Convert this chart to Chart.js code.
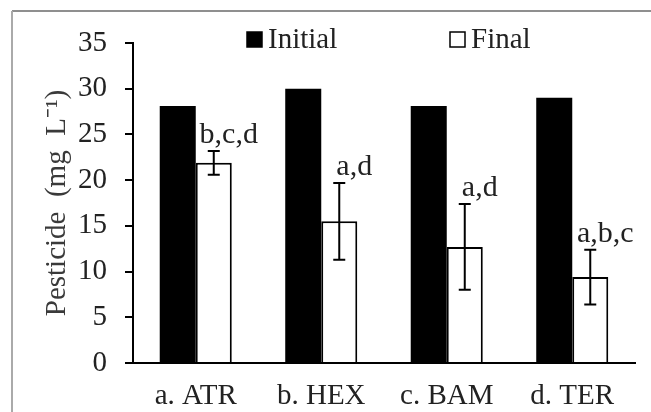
<!DOCTYPE html>
<html>
<head>
<meta charset="utf-8">
<script src="https://cdn.jsdelivr.net/npm/chart.js@4.4.0/dist/chart.umd.min.js"></script>
<style>
  html, body { margin: 0; padding: 0; background: #fff; }
</style>
</head>
<body>
<canvas id="canvas" width="651" height="412"></canvas>
<script>
const categories = ['a. ATR', 'b. HEX', 'c. BAM', 'd. TER'];
const initialValues = [28.1, 30.0, 28.1, 29.0];
const finalValues = [21.9, 15.5, 12.7, 9.4];
const finalErrors = [1.3, 4.2, 4.7, 3.0];
const finalLetters = ['b,c,d', 'a,d', 'a,d', 'a,b,c'];
const seriesNames = ['Initial', 'Final'];

const serif = "'Liberation Serif', 'Times New Roman', serif";

// grey frame of the original figure (top + left edge only)
const framePlugin = {
  id: 'frame',
  beforeDraw(chart) {
    const ctx = chart.ctx;
    ctx.save();
    ctx.lineWidth = 1.5;
    ctx.strokeStyle = '#6a6a6a';
    ctx.beginPath();
    ctx.moveTo(12, 11);
    ctx.lineTo(chart.width, 11);
    ctx.stroke();
    ctx.strokeStyle = '#aaaaaa';
    ctx.lineWidth = 2;
    ctx.beginPath();
    ctx.moveTo(12, 11);
    ctx.lineTo(12, chart.height);
    ctx.stroke();
    ctx.restore();
  }
};

// error bars + significance letters on the Final series
const errorPlugin = {
  id: 'errorBars',
  afterDatasetsDraw(chart) {
    const ctx = chart.ctx;
    const y = chart.scales.y;
    const meta = chart.getDatasetMeta(1);
    ctx.save();
    ctx.strokeStyle = '#000';
    ctx.lineWidth = 2;
    ctx.fillStyle = '#222';
    ctx.font = '30px ' + serif;
    ctx.textAlign = 'center';
    ctx.textBaseline = 'alphabetic';
    meta.data.forEach((bar, i) => {
      const top = y.getPixelForValue(finalValues[i] + finalErrors[i]);
      const bot = y.getPixelForValue(finalValues[i] - finalErrors[i]);
      ctx.beginPath();
      ctx.moveTo(bar.x, top); ctx.lineTo(bar.x, bot);
      ctx.moveTo(bar.x - 6, top); ctx.lineTo(bar.x + 6, top);
      ctx.moveTo(bar.x - 6, bot); ctx.lineTo(bar.x + 6, bot);
      ctx.stroke();
      ctx.fillText(finalLetters[i], bar.x + 15, top - 8);
    });
    ctx.restore();
  }
};

// legend laid out like the original (wide gap between entries)
const legendPlugin = {
  id: 'wideLegend',
  afterDraw(chart) {
    const ctx = chart.ctx;
    const left = chart.chartArea.left;
    const offsets = [114, 317];
    ctx.save();
    ctx.font = '29px ' + serif;
    ctx.textBaseline = 'alphabetic';
    ctx.textAlign = 'left';
    chart.data.datasets.forEach((ds, i) => {
      const x = left + offsets[i];
      ctx.fillStyle = ds.backgroundColor;
      ctx.fillRect(x, 32, 15, 15);
      ctx.strokeStyle = '#000';
      ctx.lineWidth = 1.5;
      ctx.strokeRect(x, 32, 15, 15);
      ctx.fillStyle = '#222';
      ctx.fillText(ds.label, x + 21, 48);
    });
    ctx.restore();
  }
};

new Chart(document.getElementById('canvas'), {
  type: 'bar',
  data: {
    labels: categories,
    datasets: [
      {
        label: seriesNames[0],
        data: initialValues,
        backgroundColor: '#000000',
        borderWidth: 0
      },
      {
        label: seriesNames[1],
        data: finalValues,
        backgroundColor: '#ffffff',
        borderColor: '#000000',
        borderWidth: 2
      }
    ]
  },
  options: {
    responsive: false,
    animation: false,
    devicePixelRatio: 1,
    layout: { padding: { top: 43, right: 16, bottom: 0, left: 0 } },
    datasets: {
      bar: { categoryPercentage: 0.574, barPercentage: 1.0 }
    },
    plugins: {
      legend: { display: false },
      tooltip: { enabled: false }
    },
    scales: {
      x: {
        grid: { display: false },
        border: { display: true, color: '#000', width: 2 },
        ticks: { padding: 8, color: '#222', font: { family: serif, size: 29 } },
        afterFit(scale) { scale.height = 49; }
      },
      y: {
        min: 0,
        max: 35,
        ticks: { stepSize: 5, padding: 18, color: '#222', font: { family: serif, size: 29 } },
        grid: { drawOnChartArea: false, drawTicks: true, tickLength: 8, color: '#000', lineWidth: 2 },
        border: { display: true, color: '#000', width: 2 },
        title: {
          display: true,
          text: 'Pesticide  (mg  L\u207B\u00B9)',
          color: '#3a3a3a',
          font: { family: serif, size: 29 },
          padding: { top: 40, bottom: 0 }
        },
        afterFit(scale) { scale.width = 133; }
      }
    }
  },
  plugins: [framePlugin, errorPlugin, legendPlugin]
});
</script>
</body>
</html>
